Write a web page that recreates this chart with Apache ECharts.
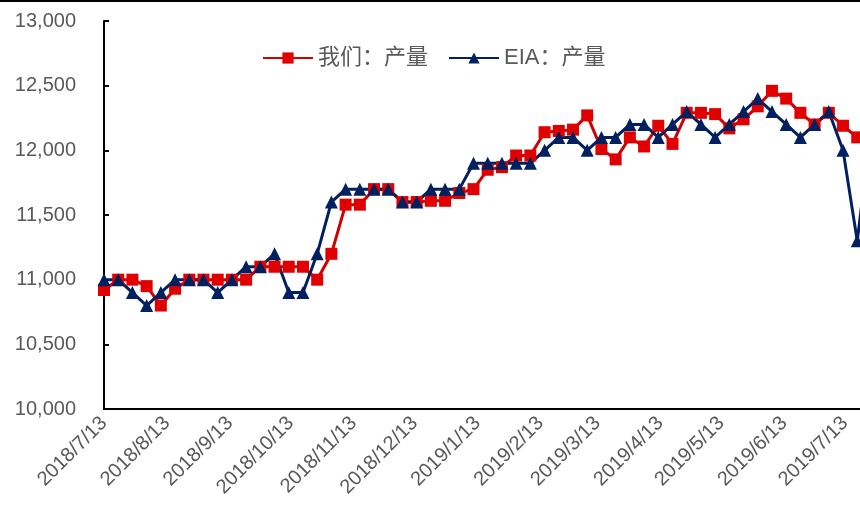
<!DOCTYPE html>
<html>
<head>
<meta charset="utf-8">
<script src="https://cdn.jsdelivr.net/npm/echarts@6/dist/echarts.min.js"></script>
<style>
html,body{margin:0;padding:0;background:#fff;}
#c{width:860px;height:510px;}
</style>
</head>
<body>
<div id="c"></div>
<script>
var dates = [
'2018-07-13','2018-07-20','2018-07-27','2018-08-03','2018-08-10','2018-08-17','2018-08-24','2018-08-31',
'2018-09-07','2018-09-14','2018-09-21','2018-09-28','2018-10-05','2018-10-12','2018-10-19','2018-10-26',
'2018-11-02','2018-11-09','2018-11-16','2018-11-23','2018-11-30','2018-12-07','2018-12-14','2018-12-21',
'2018-12-28','2019-01-04','2019-01-11','2019-01-18','2019-01-25','2019-02-01','2019-02-08','2019-02-15',
'2019-02-22','2019-03-01','2019-03-08','2019-03-15','2019-03-22','2019-03-29','2019-04-05','2019-04-12',
'2019-04-19','2019-04-26','2019-05-03','2019-05-10','2019-05-17','2019-05-24','2019-05-31','2019-06-07',
'2019-06-14','2019-06-21','2019-06-28','2019-07-05','2019-07-12','2019-07-19','2019-07-26'
];
var ours = [
10920,11000,11000,10950,10800,10930,11000,11000,
11000,11000,11000,11100,11100,11100,11100,11000,
11200,11580,11580,11700,11700,11600,11600,11610,
11610,11670,11700,11850,11870,11960,11960,12140,
12150,12160,12270,12010,11930,12100,12030,12190,
12050,12290,12290,12280,12170,12240,12340,12460,
12400,12290,12200,12290,12190,12100,12250
];
var eia = [
11000,11000,10900,10800,10900,11000,11000,11000,
10900,11000,11100,11100,11200,10900,10900,11200,
11600,11700,11700,11700,11700,11600,11600,11700,
11700,11700,11900,11900,11900,11900,11900,12000,
12100,12100,12000,12100,12100,12200,12200,12100,
12200,12300,12200,12100,12200,12300,12400,12300,
12200,12100,12200,12300,12000,11300,12200
];
var tickLabels = ['2018/7/13','2018/8/13','2018/9/13','2018/10/13','2018/11/13','2018/12/13',
'2019/1/13','2019/2/13','2019/3/13','2019/4/13','2019/5/13','2019/6/13','2019/7/13'];
var seriesNames = ['我们：产量','EIA：产量'];

function toTime(s){ var p = s.split(/[\/-]/); return Date.UTC(+p[0], +p[1]-1, +p[2]); }
var tickValues = tickLabels.map(toTime);
function fmtDate(v){ var d = new Date(v); return d.getUTCFullYear()+'/'+(d.getUTCMonth()+1)+'/'+d.getUTCDate(); }

var FONT = "'Liberation Sans','Noto Sans CJK SC',sans-serif";
var chart = echarts.init(document.getElementById('c'));
chart.setOption({
  animation:false,
  backgroundColor:'#fff',
  textStyle:{fontFamily:FONT},
  grid:{left:104, top:21, width:804, height:388, containLabel:false, outerBoundsMode:'none'},
  legend:{
    left:257, top:42, itemWidth:50, itemHeight:14, itemGap:20,
    textStyle:{fontSize:22, color:'#595959', fontFamily:FONT},
    data:seriesNames
  },
  xAxis:{
    type:'value',
    min:toTime('2018/7/13'), max:toTime('2019/8/13'),
    axisLine:{lineStyle:{color:'#000', width:2}},
    axisTick:{show:false},
    splitLine:{show:false},
    axisLabel:{
      customValues:tickValues,
      rotate:45, margin:11, fontSize:20, color:'#595959', fontFamily:FONT,
      formatter:function(v){ return fmtDate(v); }
    }
  },
  yAxis:{
    type:'value', min:10000, max:13000, interval:500,
    axisLine:{show:true, lineStyle:{color:'#000', width:2}},
    axisTick:{show:true, inside:true, length:5, lineStyle:{color:'#000', width:2}},
    splitLine:{show:false},
    axisLabel:{margin:28, fontSize:20, color:'#595959', fontFamily:FONT,
      formatter:function(v){ return v.toLocaleString('en-US'); }}
  },
  graphic:[{type:'line', shape:{x1:0,y1:1,x2:860,y2:1}, style:{stroke:'#000', lineWidth:2}}],
  series:[
    {name:seriesNames[0], type:'line', data:dates.map(function(d,i){return [toTime(d), ours[i]];}),
     symbol:'rect', symbolSize:12, showAllSymbol:true,
     lineStyle:{color:'#D00000', width:3}, itemStyle:{color:'#E00000'}},
    {name:seriesNames[1], type:'line', data:dates.map(function(d,i){return [toTime(d), eia[i]];}),
     symbol:'triangle', symbolSize:13, showAllSymbol:true,
     lineStyle:{color:'#002060', width:3}, itemStyle:{color:'#002060'}}
  ]
});
</script>
</body>
</html>
